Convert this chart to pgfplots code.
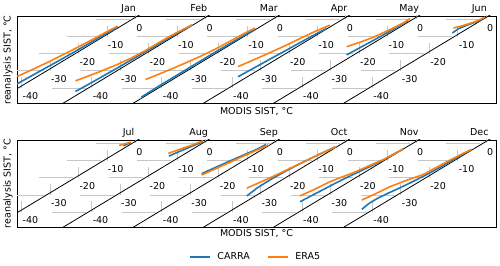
\documentclass[border=0pt]{standalone}
\usepackage{fontspec}
\setmainfont{DejaVu Sans}
\usepackage{pgfplots}
\usepackage{pgfplotstable}
\pgfplotsset{compat=1.18}
\definecolor{carra}{HTML}{1F77B4}
\definecolor{era}{HTML}{FF7F0E}

% ---------- data: MODIS SIST (x) vs reanalysis SIST (y), deg C ----------
\pgfplotstableread{
x y
-45 -42.0
-40 -37.2
-35 -32.6
-30 -28.0
-25 -23.4
-20 -18.7
-15 -13.9
-10 -9.1
-5 -4.5
}\janC
\pgfplotstableread{
x y
-45 -36.8
-40 -33.0
-35 -29.2
-30 -25.3
-25 -21.2
-20 -17.0
-15 -12.7
-10 -8.2
-5 -3.9
}\janE
\pgfplotstableread{
x y
-44.5 -42.0
-40 -37.9
-35 -33.2
-30 -28.5
-25 -23.7
-20 -18.9
-15 -14.1
-10 -9.3
-5 -4.6
-3.5 -3.3
}\febC
\pgfplotstableread{
x y
-44.5 -35.8
-40 -33.0
-35 -29.8
-30 -26.4
-25 -22.6
-20 -18.2
-15 -13.3
-10 -8.6
-5 -4.4
-3.5 -3.1
}\febE
\pgfplotstableread{
x y
-46 -45.3
-40 -39.0
-35 -34.0
-30 -29.0
-25 -24.0
-20 -19.0
-15 -14.2
-10 -9.4
-6 -5.6
}\marC
\pgfplotstableread{
x y
-44.5 -35.0
-40 -32.0
-35 -28.6
-30 -25.0
-25 -21.3
-20 -17.3
-15 -12.8
-10 -8.3
-6 -5.0
}\marE
\pgfplotstableread{
x y
-36.7 -33.4
-30 -27.3
-25 -22.7
-20 -18.2
-15 -13.6
-10 -9.1
-5.5 -5.2
}\aprC
\pgfplotstableread{
x y
-36.7 -27.5
-30 -22.7
-25 -19.0
-20 -15.2
-15 -11.2
-10 -7.3
-4.4 -3.3
}\aprE
\pgfplotstableread{
x y
-23.2 -20.7
-18 -16.0
-13 -11.5
-8 -6.9
-4 -3.0
-1.8 -0.9
}\mayC
\pgfplotstableread{
x y
-23.2 -15.9
-18 -13.0
-13.8 -10.4
-8 -6.0
-3 -1.8
-0.9 0.5
}\mayE
\pgfplotstableread{
x y
-10.7 -7.9
-8.5 -5.4
-5 -3.0
-2 -1.2
-0.3 -0.2
}\junC
\pgfplotstableread{
x y
-10.3 -5.0
-7 -3.6
-3 -1.5
0.8 1.3
}\junE
\pgfplotstableread{
x y
-3 -1.4
-1.5 -0.3
-0.3 0.4
}\julC
\pgfplotstableread{
x y
-4.5 -1.2
-2 0.0
-0.5 0.8
}\julE
\pgfplotstableread{
x y
-11.7 -7.4
-8 -4.7
-4 -1.9
0.3 1.0
}\augC
\pgfplotstableread{
x y
-11.9 -5.8
-8 -3.5
-4 -1.2
0.3 1.5
}\augE
\pgfplotstableread{
x y
-24.8 -17.6
-20 -14.0
-15 -10.3
-10 -6.7
-5 -3.1
-2.2 -0.6
}\sepC
\pgfplotstableread{
x y
-24.8 -18.4
-20 -14.8
-15 -11.1
-10 -7.3
-5 -3.6
-1.4 -0.9
}\sepE
\pgfplotstableread{
x y
-33.6 -30.6
-30 -26.0
-25 -20.8
-20 -16.2
-15 -11.9
-10 -7.8
-5 -3.9
-2.5 -2.0
}\octC
\pgfplotstableread{
x y
-33.6 -26.1
-30 -23.4
-25 -19.7
-20 -15.8
-15 -11.8
-10 -7.8
-5 -4.0
-2.5 -2.1
}\octE
\pgfplotstableread{
x y
-39.6 -34.0
-35 -30.0
-29 -24.8
-25 -21.4
-20 -17.4
-15 -13.5
-10 -9.4
-6 -5.7
-3.3 -3.3
}\novC
\pgfplotstableread{
x y
-39.6 -30.6
-35 -27.2
-29 -22.3
-25 -19.7
-20 -16.5
-15 -12.8
-10 -9.2
-6 -5.6
-3.3 -3.2
}\novE
\pgfplotstableread{
x y
-42.5 -38.4
-40 -35.0
-37 -32.0
-33 -28.8
-29 -25.8
-25 -22.6
-20 -18.4
-15 -13.9
-10 -9.1
-4 -3.6
}\decC
\pgfplotstableread{
x y
-42.5 -33.0
-38 -29.6
-32.6 -25.2
-26 -21.0
-21 -18.2
-15 -12.8
-11.5 -9.7
-7 -5.9
-4 -3.5
}\decE

\pgfplotsset{
  panel/.style={anchor=south west, width=479pt, height=87.5pt, scale only axis,
    xmin=-40.4, xmax=127.9, ymin=-49, ymax=2, xtick=\empty, ytick=\empty,
    axis line style={line width=0.8pt}},
  diag/.style={black, line width=0.8pt, forget plot},
  cC/.style={carra, line width=1.6pt, forget plot},
  cE/.style={era, line width=1.6pt, forget plot},
}

\newcommand{\monthgrid}[1]{%
 \pgfplotsinvokeforeach{0,-10,-20,-30,-40}{%
  \draw[gray!45, line width=0.8pt] (axis cs:{#1+(##1)-12.8},##1) -- (axis cs:{#1+(##1)-0.8},##1);
  \draw[gray!45, line width=0.8pt] (axis cs:{#1+(##1)+1.2},##1) -- (axis cs:{#1+(##1)+1.2},{##1+6.3});
  \node[anchor=west, inner sep=0pt] at (axis cs:{#1+(##1)+1.5},{##1-4.9}) {##1};
 }}

\newcommand{\diags}{%
  \addplot[diag] coordinates {(-50,-50) (3,3)};
  \addplot[diag] coordinates {(-25.35,-50) (27.65,3)};
  \addplot[diag] coordinates {(-0.7,-50) (52.3,3)};
  \addplot[diag] coordinates {(23.95,-50) (76.95,3)};
  \addplot[diag] coordinates {(48.6,-50) (101.6,3)};
  \addplot[diag] coordinates {(73.25,-50) (126.25,3)};
}

\begin{document}
\fontsize{9.5}{11.4}\selectfont
\begin{tikzpicture}
\useasboundingbox (0pt,0pt) rectangle (500pt,265pt);

% ---------------- top row ----------------
\begin{axis}[panel, at={(17pt,161.5pt)}]
  \monthgrid{0}\monthgrid{24.65}\monthgrid{49.3}\monthgrid{73.95}\monthgrid{98.6}\monthgrid{123.25}
  \diags
  \addplot[cC] table[x expr=\thisrow{x}+0, y=y] {\janC};
  \addplot[cE] table[x expr=\thisrow{x}+0, y=y] {\janE};
  \addplot[cC] table[x expr=\thisrow{x}+24.65, y=y] {\febC};
  \addplot[cE] table[x expr=\thisrow{x}+24.65, y=y] {\febE};
  \addplot[cC] table[x expr=\thisrow{x}+49.3, y=y] {\marC};
  \addplot[cE] table[x expr=\thisrow{x}+49.3, y=y] {\marE};
  \addplot[cC] table[x expr=\thisrow{x}+73.95, y=y] {\aprC};
  \addplot[cE] table[x expr=\thisrow{x}+73.95, y=y] {\aprE};
  \addplot[cC] table[x expr=\thisrow{x}+98.6, y=y] {\mayC};
  \addplot[cE] table[x expr=\thisrow{x}+98.6, y=y] {\mayE};
  \addplot[cC] table[x expr=\thisrow{x}+123.25, y=y] {\junC};
  \addplot[cE] table[x expr=\thisrow{x}+123.25, y=y] {\junE};
  \coordinate (a0) at (axis cs:-1.2,2);
  \coordinate (a1) at (axis cs:23.45,2);
  \coordinate (a2) at (axis cs:48.1,2);
  \coordinate (a3) at (axis cs:72.75,2);
  \coordinate (a4) at (axis cs:97.4,2);
  \coordinate (a5) at (axis cs:122.05,2);
\end{axis}

% ---------------- bottom row ----------------
\begin{axis}[panel, at={(17pt,37.5pt)},
  legend style={at={(0.498,-0.337)}, anchor=center, draw=none, fill=none,
    legend columns=2,
    /tikz/every even column/.append style={column sep=15pt},
    /tikz/every odd column/.append style={column sep=5pt}},
  legend image code/.code={\draw[#1] (0pt,0pt) -- (20pt,0pt);}]
  \monthgrid{0}\monthgrid{24.65}\monthgrid{49.3}\monthgrid{73.95}\monthgrid{98.6}\monthgrid{123.25}
  \diags
  \addplot[cC] table[x expr=\thisrow{x}+0, y=y] {\julC};
  \addplot[cE] table[x expr=\thisrow{x}+0, y=y] {\julE};
  \addplot[cC] table[x expr=\thisrow{x}+24.65, y=y] {\augC};
  \addplot[cE] table[x expr=\thisrow{x}+24.65, y=y] {\augE};
  \addplot[cC] table[x expr=\thisrow{x}+49.3, y=y] {\sepC};
  \addplot[cE] table[x expr=\thisrow{x}+49.3, y=y] {\sepE};
  \addplot[cC] table[x expr=\thisrow{x}+73.95, y=y] {\octC};
  \addplot[cE] table[x expr=\thisrow{x}+73.95, y=y] {\octE};
  \addplot[cC] table[x expr=\thisrow{x}+98.6, y=y] {\novC};
  \addplot[cE] table[x expr=\thisrow{x}+98.6, y=y] {\novE};
  \addplot[cC] table[x expr=\thisrow{x}+123.25, y=y] {\decC};
  \addplot[cE] table[x expr=\thisrow{x}+123.25, y=y] {\decE};
  \addlegendimage{carra, line width=1.6pt}
  \addlegendentry{CARRA}
  \addlegendimage{era, line width=1.6pt}
  \addlegendentry{ERA5}
  \coordinate (b0) at (axis cs:-1.2,2);
  \coordinate (b1) at (axis cs:23.45,2);
  \coordinate (b2) at (axis cs:48.1,2);
  \coordinate (b3) at (axis cs:72.75,2);
  \coordinate (b4) at (axis cs:97.4,2);
  \coordinate (b5) at (axis cs:122.05,2);
\end{axis}

% month titles
\node[anchor=base] at ([yshift=4.5pt]a0) {Jan};
\node[anchor=base] at ([yshift=4.5pt]a1) {Feb};
\node[anchor=base] at ([yshift=4.5pt]a2) {Mar};
\node[anchor=base] at ([yshift=4.5pt]a3) {Apr};
\node[anchor=base] at ([yshift=4.5pt]a4) {May};
\node[anchor=base] at ([yshift=4.5pt]a5) {Jun};
\node[anchor=base] at ([yshift=4.5pt]b0) {Jul};
\node[anchor=base] at ([yshift=4.5pt]b1) {Aug};
\node[anchor=base] at ([yshift=4.5pt]b2) {Sep};
\node[anchor=base] at ([yshift=4.5pt]b3) {Oct};
\node[anchor=base] at ([yshift=4.5pt]b4) {Nov};
\node[anchor=base] at ([yshift=4.5pt]b5) {Dec};

% axis labels
\node[rotate=90] at (8pt,205pt) {reanalysis SIST, °C};
\node[rotate=90] at (8pt,81.25pt) {reanalysis SIST, °C};
\node at (256.5pt,153pt) {MODIS SIST, °C};
\node at (256.5pt,31pt) {MODIS SIST, °C};
\end{tikzpicture}
\end{document}
